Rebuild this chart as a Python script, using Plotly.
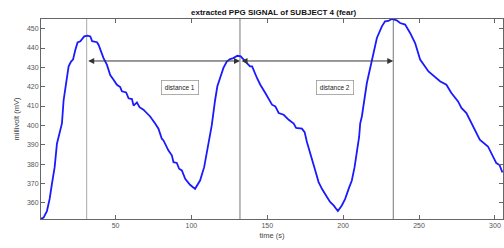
import plotly.graph_objects as go

# ---- data ----
time_s = [0.9, 2.6, 4.8, 6.6, 8.1, 9.9, 11.4, 13.2, 14.7, 15.8, 17.6, 19.1, 20.7, 22, 23.5, 25,
          26.8, 27.9, 29.4, 31.6, 33.4, 34.6, 37.8, 38.8, 40.4, 42.1, 44.3, 46.5, 48.7, 50.9, 53.1,
          54.2, 57, 58.6, 60.8, 61.9, 64.1, 65.8, 68.4, 70.7, 72.8, 76.1, 78.3, 80.5, 81.6, 84.9,
          87.1, 88.2, 90.4, 91.9, 93.7, 95.9, 99.1, 102.4, 105.7, 108.4, 109.7, 111.2, 113.4,
          115.6, 117.1, 118.9, 121.1, 123.3, 125.5, 127.6, 130.3, 132.5, 134.2, 136.4, 138.6,
          140, 143.2, 145.4, 148.7, 153.1, 155.3, 157.5, 160.8, 164.1, 167.4, 169, 172.8, 174.6,
          176.1, 177.6, 179.4, 181.6, 183.8, 186, 189.3, 191.5, 193.7, 196.5, 199.1, 201.3,
          203.6, 205.7, 207.5, 209, 210.5, 211.2, 212.3, 215.6, 218.9, 222.2, 225.5, 227.6,
          229.8, 232, 235.3, 237.5, 240.8, 244.1, 247.4, 250.7, 256.2, 261.6, 264, 268, 271.3,
          275.7, 277.9, 281.2, 285.5, 290, 295.4, 297.6, 300.9, 303, 304.9]
ppg_mv = [351.7, 352.3, 355.7, 362, 369.8, 378.4, 390.5, 395.7, 401, 413, 421.9, 430.5, 433, 434,
          439, 442.9, 443.5, 444.7, 446, 446.4, 446, 443.5, 443, 441.7, 438.3, 434.8, 431.4, 426,
          423.6, 421, 419.8, 417.6, 417, 414, 413.6, 410.2, 411.9, 409.4, 408.1, 406.4, 404.6,
          401, 398.3, 393.1, 392.2, 387, 384.5, 381, 380.6, 377.6, 376.7, 372.4, 369.3, 367.2,
          371.5, 378.4, 383.6, 390.5, 400, 413, 420.2, 424.5, 429.7, 433, 434.3, 434.8, 436,
          435.7, 434, 432.3, 430.5, 430.5, 424.5, 421, 416.7, 410.7, 409.8, 406.4, 405.5, 402.9,
          400.9, 398.7, 398.3, 396.5, 391.4, 387, 381.9, 376.7, 370.7, 367.2, 363, 360.3, 358.6,
          355.7, 358.6, 362, 367.2, 371.5, 378.4, 385.3, 394, 400.9, 404.6, 421.9, 434, 445.2,
          451.2, 453.8, 454, 455, 454.3, 452.9, 452.1, 447.8, 442.6, 434, 427.9, 424.5, 422.7,
          421, 416.7, 412.4, 409, 406.4, 399.5, 392.6, 389.1, 385.3, 380.5, 379.5, 375.7]

peak_times = [31, 132, 233]
arrow_level = 433.3
distance_labels = ["distance 1", "distance 2"]
label_pos_x = [92.6, 194.7]
label_pos_y = 419.5

x_ticks = [50, 100, 150, 200, 250, 300]
y_ticks = [360, 370, 380, 390, 400, 410, 420, 430, 440, 450]

fig = go.Figure()
fig.add_trace(go.Scatter(x=time_s, y=ppg_mv, mode="lines",
                         line=dict(color="#1a1aff", width=1.8), showlegend=False,
                         hoverinfo="skip"))

shapes = []
line_colors = ["#aaaaaa", "#777777", "#777777"]
for t, c in zip(peak_times, line_colors):
    shapes.append(dict(type="line", xref="x", yref="paper", x0=t, x1=t, y0=0, y1=1,
                       line=dict(color=c, width=1), layer="below"))

annotations = []
for i in range(len(peak_times) - 1):
    annotations.append(dict(x=peak_times[i + 1], y=arrow_level, ax=peak_times[i], ay=arrow_level,
                            xref="x", yref="y", axref="x", ayref="y", text="", showarrow=True,
                            arrowhead=2, arrowside="end+start", arrowsize=1.2, arrowwidth=1,
                            arrowcolor="#333333"))
for lab, lx in zip(distance_labels, label_pos_x):
    annotations.append(dict(x=lx, y=label_pos_y, xref="x", yref="y", text=lab, showarrow=False,
                            font=dict(family="Liberation Sans", size=6.5, color="#222222"),
                            bgcolor="white", bordercolor="#999999", borderwidth=0.8, borderpad=3))

fig.update_layout(
    width=504, height=248,
    margin=dict(l=41, r=1, t=19, b=29),
    paper_bgcolor="white", plot_bgcolor="white",
    title=dict(text="<b>extracted PPG SIGNAL of SUBJECT 4 (fear)</b>", x=0.543, xanchor="center",
               y=0.952, yref="container", yanchor="middle",
               font=dict(family="Liberation Sans", size=8, color="#111111")),
    shapes=shapes, annotations=annotations,
    xaxis=dict(range=[0.9, 305.3], tickvals=x_ticks, ticks="inside", ticklen=4, tickcolor="#666666",
               showline=True, linecolor="#666666", linewidth=1, mirror="ticks", showgrid=False,
               zeroline=False, automargin=False,
               tickfont=dict(family="Liberation Sans", size=7, color="#555555"),
               title=dict(text="time (s)", standoff=4,
                          font=dict(family="Liberation Sans", size=7.5, color="#444444"))),
    yaxis=dict(range=[351.6, 455], tickvals=y_ticks, ticks="inside", ticklen=4, tickcolor="#666666",
               showline=True, linecolor="#666666", linewidth=1, mirror="ticks", showgrid=False,
               zeroline=False, automargin=False,
               tickfont=dict(family="Liberation Sans", size=7, color="#555555"),
               title=dict(text="millivolt (mV)", standoff=6,
                          font=dict(family="Liberation Sans", size=7.5, color="#444444"))),
)

fig.write_html("out.html", config={"displayModeBar": False},
               post_script="document.body.style.margin='0';document.body.style.overflow='hidden';")
